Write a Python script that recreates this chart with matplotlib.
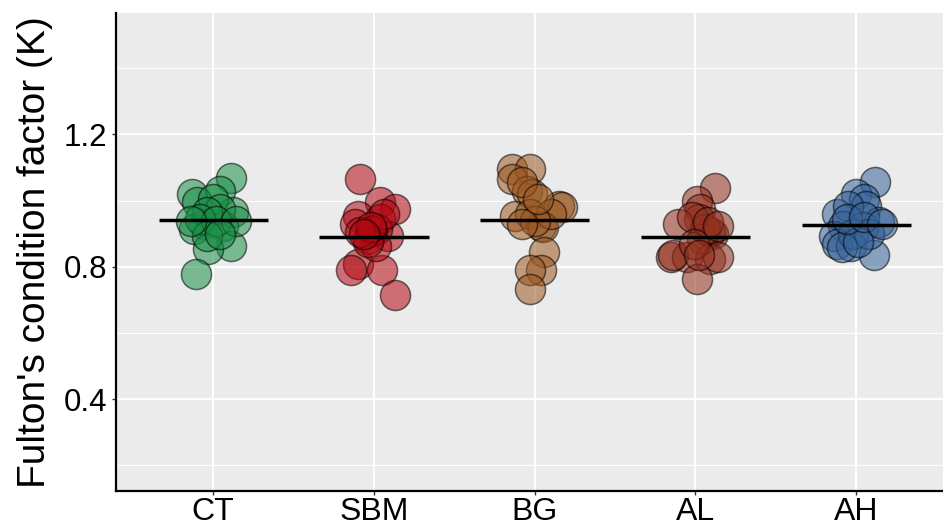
import matplotlib
matplotlib.use("Agg")
import matplotlib.pyplot as plt
import numpy as np

plt.rcParams['font.family'] = ['Liberation Sans', 'DejaVu Sans']

categories = ["CT", "SBM", "BG", "AL", "AH"]
colors = ["#1A9047", "#B40811", "#9C5822", "#94301E", "#356399"]
means = [0.941, 0.890, 0.941, 0.890, 0.926]

ct_vals = [1.067, 1.020, 1.029, 0.995, 0.965, 0.929, 0.924, 0.914, 0.864, 0.854,
           0.779, 1.004, 0.974, 0.965, 0.944, 0.938, 0.938, 0.893, 0.899, 0.938]
ct_off = [0.11, -0.13, 0.04, -0.10, 0.12, -0.06, 0.06, -0.12, 0.11, -0.03,
          -0.11, 0.00, 0.04, -0.04, -0.08, 0.02, 0.14, -0.04, 0.04, -0.14]

sbm_vals = [1.065, 0.995, 0.974, 0.954, 0.929, 0.944, 0.894, 0.884, 0.914, 0.909,
            0.809, 0.789, 0.789, 0.714, 0.864, 0.875, 0.905, 0.959, 0.920, 0.900]
sbm_off = [-0.09, 0.04, 0.13, -0.10, -0.12, 0.04, 0.09, -0.04, 0.02, -0.01,
           -0.10, -0.14, 0.05, 0.13, 0.01, -0.04, -0.09, 0.06, -0.02, -0.06]

bg_vals = [1.095, 1.095, 1.065, 1.029, 1.020, 0.984, 0.980, 0.954, 0.959, 0.924,
           0.919, 0.844, 0.789, 0.789, 0.734, 0.959, 0.939, 1.056, 1.004, 0.930]
bg_off = [-0.14, -0.03, -0.14, -0.05, -0.02, 0.15, 0.17, -0.12, -0.03, 0.04,
          0.05, 0.06, 0.04, -0.03, -0.03, 0.10, 0.00, -0.08, 0.02, -0.08]

al_vals = [1.037, 0.999, 0.974, 0.944, 0.929, 0.899, 0.904, 0.884, 0.829, 0.829,
           0.824, 0.829, 0.764, 0.834, 0.914, 0.950, 0.935, 0.869, 0.834, 0.924]
al_off = [0.12, 0.01, 0.03, 0.02, -0.11, 0.11, 0.09, 0.04, -0.15, -0.05,
          0.09, 0.14, 0.01, -0.14, 0.06, -0.02, 0.08, -0.01, 0.02, 0.14]

ah_vals = [1.055, 1.020, 1.004, 0.984, 0.959, 0.984, 0.934, 0.924, 0.919, 0.894,
           0.869, 0.864, 0.834, 0.899, 0.899, 0.860, 0.875, 0.944, 0.949, 0.930]
ah_off = [0.12, 0.00, 0.05, 0.06, -0.12, -0.05, 0.14, -0.08, 0.04, -0.14,
          -0.12, -0.03, 0.11, -0.02, 0.08, -0.09, 0.01, -0.06, 0.05, 0.16]

values = [ct_vals, sbm_vals, bg_vals, al_vals, ah_vals]
offsets = [ct_off, sbm_off, bg_off, al_off, ah_off]

fig = plt.figure(figsize=(9.43, 5.26), dpi=100)
ax = fig.add_axes([116/943, 1 - 491/526, 1 - 116/943, (491 - 13)/526])
ax.set_facecolor("#EBEBEB")

ax.set_ylim(0.122, 1.567)
ax.set_xlim(0.395, 5.54)

for y in [0.2, 0.6, 1.0, 1.4]:
    ax.axhline(y, color="white", lw=0.7, zorder=0)
for y in [0.4, 0.8, 1.2]:
    ax.axhline(y, color="white", lw=1.3, zorder=0)
for i in range(len(categories)):
    ax.axvline(i + 1, color="white", lw=1.3, zorder=0)

for i, (vals, offs, col) in enumerate(zip(values, offsets, colors)):
    xs = np.array(offs) + i + 1
    ax.scatter(xs, vals, s=470, facecolor=col, edgecolor="black", alpha=0.55,
               linewidths=1.1, zorder=3)
    ax.plot([i + 1 - 0.34, i + 1 + 0.34], [means[i], means[i]], color="black",
            lw=2.5, zorder=4, solid_capstyle="butt")

ax.set_xticks(range(1, len(categories) + 1))
ax.set_xticklabels(categories)
ax.set_yticks([0.4, 0.8, 1.2])
ax.set_yticklabels(["0.4", "0.8", "1.2"])
ax.tick_params(axis="both", colors="#333333", length=3, width=1,
               labelcolor="black")
ax.tick_params(axis="x", labelsize=23, pad=1)
ax.tick_params(axis="y", labelsize=22.5, pad=3)
ax.set_ylabel("Fulton's condition factor (K)", fontsize=28, labelpad=8)

for s in ["top", "right"]:
    ax.spines[s].set_visible(False)
for s in ["left", "bottom"]:
    ax.spines[s].set_linewidth(1.6)
    ax.spines[s].set_color("black")

fig.savefig("out.png", dpi=100)
